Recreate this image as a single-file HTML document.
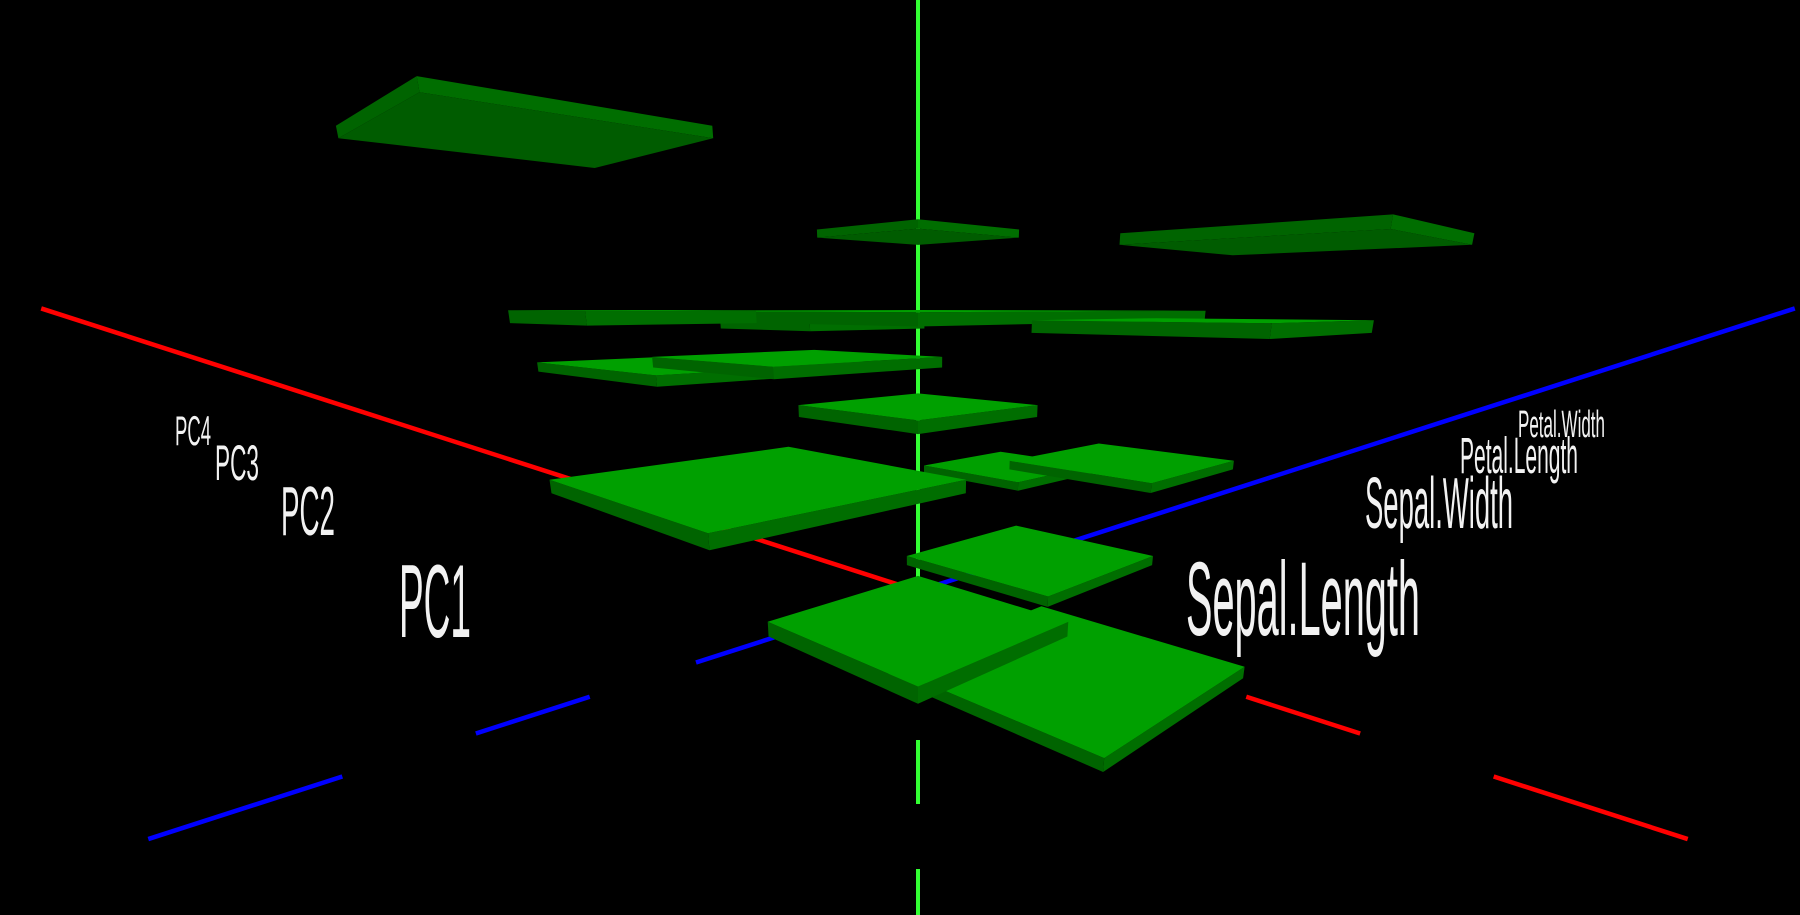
<!DOCTYPE html>
<html><head><meta charset="utf-8"><style>
html,body{margin:0;padding:0;background:#000;width:1800px;height:915px;overflow:hidden}
svg{display:block}
text{font-family:"Liberation Sans",sans-serif;fill:#f2f2f2}
</style></head><body>
<svg id="chart" width="1800" height="915" viewBox="0 0 1800 915">
<rect x="0" y="0" width="1800" height="915" fill="#000"/>
<g id="axes"></g>
<g id="tiles"></g>
<g id="labels"></g>
</svg>
<script>
// Data: rows = components (along red axis), columns = variables (along blue axis)
const pcLabels = ["PC1","PC2","PC3","PC4"];
const varLabels = ["Sepal.Length","Sepal.Width","Petal.Length","Petal.Width"];
const rowPC1 = [0.90, 0.15, 2.49, 3.17];
const rowPC2 = [1.50, 1.87, 0.35, 1.07];
const rowPC3 = [2.56, 2.17, 2.55, 0.83];
const rowPC4 = [3.97, 2.06, 2.45, 3.46];
const heights = [rowPC1,rowPC2,rowPC3,rowPC4];
const sizePC1 = [1.2, 1.8, 1.8, 2.1];
const sizePC2 = [1.95, 1.3, 1.65, 1.65];
const sizePC3 = [1.3, 1.8, 4.0, 1.4];
const sizePC4 = [2.15, 2.4, 1.6, 1.7];
const sizes = [sizePC1,sizePC2,sizePC3,sizePC4];

// camera / projection
const CX=918, CY=591, F=832, D=8, P=18.8*Math.PI/180;
const cp=Math.cos(P), sp=Math.sin(P);
const cam=[D*cp/Math.SQRT2, D*sp, D*cp/Math.SQRT2];
const fw=[-cp/Math.SQRT2,-sp,-cp/Math.SQRT2];
const rt=[Math.SQRT1_2,0,-Math.SQRT1_2];
const up=[rt[1]*fw[2]-rt[2]*fw[1], rt[2]*fw[0]-rt[0]*fw[2], rt[0]*fw[1]-rt[1]*fw[0]];
function proj(x,y,z){
  const d=[x-cam[0],y-cam[1],z-cam[2]];
  const xc=d[0]*rt[0]+d[1]*rt[1]+d[2]*rt[2];
  const yc=d[0]*up[0]+d[1]*up[1]+d[2]*up[2];
  const zc=d[0]*fw[0]+d[1]*fw[1]+d[2]*fw[2];
  return [CX+F*xc/zc, CY-F*yc/zc, zc];
}
const G=1.5, TH=0.09;
function cellX(i){return (1.5-i)*G;}
function cellZ(j){return (1.5-j)*G;}
const NS="http://www.w3.org/2000/svg";
function poly(parent,pts,fill){
  const p=document.createElementNS(NS,"polygon");
  p.setAttribute("points",pts.map(q=>q[0].toFixed(1)+","+q[1].toFixed(1)).join(" "));
  p.setAttribute("fill",fill);
  parent.appendChild(p);
  return p;
}
function line(parent,a,b,color,w,name){
  const l=document.createElementNS(NS,"line");
  l.setAttribute("x1",a[0]);l.setAttribute("y1",a[1]);l.setAttribute("x2",b[0]);l.setAttribute("y2",b[1]);
  l.setAttribute("stroke",color);l.setAttribute("stroke-width",w);
  
  
  parent.appendChild(l);
}
// axes
const axes=document.getElementById("axes");
const segs=[[-5000,0.79],[1.61,2.41],[3.25,4.0],[4.73,5.58]];
segs.forEach(s=>{
  line(axes,proj(s[0],0,0),proj(s[1],0,0),"#ff0000",4.5,"x-axis-line");
  line(axes,proj(0,0,s[0]),proj(0,0,s[1]),"#0000ff",4.5,"z-axis-line");
});
[[0,666],[740,804],[869,915]].forEach(s=>{
  line(axes,[CX,s[0]],[CX,s[1]],"#33ff33",4,"y-axis-line");
});
// tiles
const tg=document.getElementById("tiles");
const cells=[];
for(let i=0;i<heights.length;i++)for(let j=0;j<heights[i].length;j++){
  const x=cellX(i), z=cellZ(j), h=heights[i][j];
  const c=proj(x,h,z);
  cells.push({i,j,x,z,h,s:sizes[i][j],depth:c[2]});
}
cells.sort((a,b)=>b.depth-a.depth);
cells.forEach(c=>{
  const g=document.createElementNS(NS,"g");
  
  
  const S=c.s;
  const x0=c.x-S/2,x1=c.x+S/2,z0=c.z-S/2,z1=c.z+S/2,yt=c.h,yb=c.h-TH;
  const above=cam[1]>yt;
  poly(g,[proj(x1,yt,z0),proj(x1,yt,z1),proj(x1,yb,z1),proj(x1,yb,z0)],"#006e00");
  poly(g,[proj(x0,yt,z1),proj(x1,yt,z1),proj(x1,yb,z1),proj(x0,yb,z1)],"#006400");
  if(above){
    poly(g,[proj(x0,yt,z0),proj(x1,yt,z0),proj(x1,yt,z1),proj(x0,yt,z1)],"#00a000");
  }else{
    poly(g,[proj(x0,yb,z0),proj(x1,yb,z0),proj(x1,yb,z1),proj(x0,yb,z1)],"#005c00");
  }
  tg.appendChild(g);
});
// labels
const lg=document.getElementById("labels");
const pcPos=[[399,637,104,72],[281,535,70,54],[215,480,50,44],[175,445,42,36]];
const varPos=[[1186,635,105,234],[1365,528,72,148],[1460,473,51,118],[1518,437,38,87]];
function label(txt,p,name){
  const t=document.createElementNS(NS,"text");
  t.setAttribute("x",p[0]);t.setAttribute("y",p[1]);
  t.setAttribute("font-size",p[2]);
  t.setAttribute("textLength",p[3]);
  t.setAttribute("lengthAdjust","spacingAndGlyphs");
  t.textContent=txt;
  
  
  lg.appendChild(t);
}
pcLabels.forEach((l,k)=>label(l,pcPos[k],"row-label-"+l.toLowerCase()));
varLabels.forEach((l,k)=>label(l,varPos[k],"column-label-"+l.toLowerCase().replace(".","-")));
</script>
</body></html>
